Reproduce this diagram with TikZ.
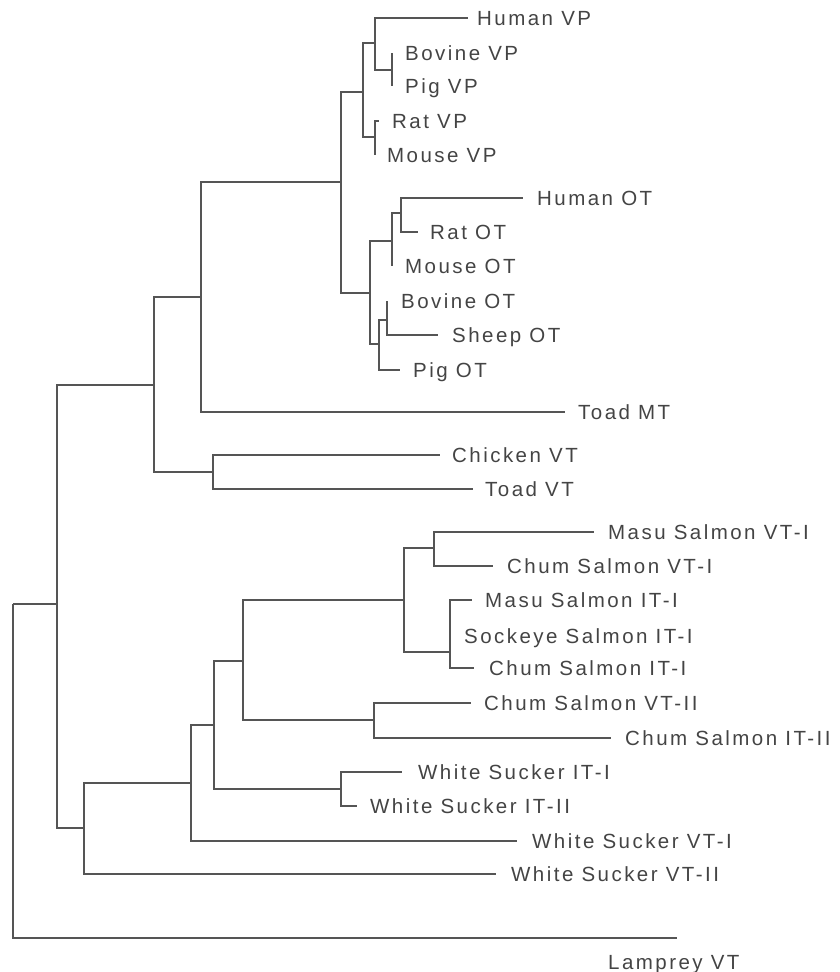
\documentclass[tikz,border=0pt]{standalone}
\usepackage{fontspec}
\newfontfamily\treefont[LetterSpace=12]{Liberation Sans}
\usepackage{xcolor}
\definecolor{branchgray}{HTML}{555555}
\definecolor{labelgray}{HTML}{444444}
\usepackage{tikz}
\usetikzlibrary{positioning,calc}

\begin{document}
\begin{tikzpicture}[x=1pt, y=-1pt,
    branch/.style={draw=branchgray, line width=1.8pt},
    leaf/.style={font=\treefont\fontsize{20.5}{23}\selectfont, text=labelgray,
      inner sep=0pt, text height=14.7pt, text depth=0pt}]
        \useasboundingbox (0,0) rectangle (839,972);
        % Inner nodes
        \coordinate (root) at (13,604);
        \coordinate (n1) at (57,604);
        \coordinate (n2) at (154,385);
        \coordinate (n3) at (201,297);
        \coordinate (n5) at (341,182);
        \coordinate (nvp) at (363,92);
        \coordinate (nvpa) at (375,43);
        \coordinate (nbp) at (392,70);
        \coordinate (nvpb) at (375,137);
        \coordinate (otc) at (370,293);
        \coordinate (nota) at (392,241);
        \coordinate (nhr) at (401,213);
        \coordinate (notb) at (379,344);
        \coordinate (nbs) at (387,320);
        \coordinate (n4) at (213,472);
        \coordinate (nf1) at (84,828);
        \coordinate (nf2) at (191,783);
        \coordinate (nf3) at (214,725);
        \coordinate (nf4) at (243,661);
        \coordinate (nsal) at (404,600);
        \coordinate (nsvt) at (434,548);
        \coordinate (nsit) at (450,652);
        \coordinate (ncs2) at (374,720);
        \coordinate (nws) at (341,789);
        % Leaf tips
        \coordinate (hvp) at (468,18);
        \coordinate (bvp) at (392,53);
        \coordinate (pvp) at (392,86);
        \coordinate (rvp) at (379,121);
        \coordinate (mvp) at (375,155);
        \coordinate (hot) at (523,198);
        \coordinate (rot) at (418,232);
        \coordinate (mot) at (392,266);
        \coordinate (bot) at (387,301);
        \coordinate (sot) at (438,335);
        \coordinate (pot) at (400,370);
        \coordinate (tmt) at (565,412);
        \coordinate (cvt) at (440,455);
        \coordinate (tvt) at (473,489);
        \coordinate (msv) at (594,532);
        \coordinate (csv) at (493,566);
        \coordinate (msi) at (472,600);
        \coordinate (ssi) at (450,636);
        \coordinate (csi) at (474,668);
        \coordinate (csv2) at (471,703);
        \coordinate (csi2) at (611,738);
        \coordinate (wsi) at (402,772);
        \coordinate (wsi2) at (357,806);
        \coordinate (wsv) at (517,841);
        \coordinate (wsv2) at (496,874);
        \coordinate (lvt) at (677,938);
        % Tetrapod branches
        \draw[branch] (root) |- (n1);
        \draw[branch] (root) |- (lvt);
        \draw[branch] (n1) |- (n2);
        \draw[branch] (n1) |- (nf1);
        \draw[branch] (n2) |- (n3);
        \draw[branch] (n2) |- (n4);
        \draw[branch] (n3) |- (n5);
        \draw[branch] (n3) |- (tmt);
        \draw[branch] (n5) |- (nvp);
        \draw[branch] (n5) |- (otc);
        \draw[branch] (nvp) |- (nvpa);
        \draw[branch] (nvp) |- (nvpb);
        \draw[branch] (nvpa) |- (hvp);
        \draw[branch] (nvpa) |- (nbp);
        \draw[branch] (nbp) |- (bvp);
        \draw[branch] (nbp) |- (pvp);
        \draw[branch] (nvpb) |- (rvp);
        \draw[branch] (nvpb) |- (mvp);
        \draw[branch] (otc) |- (nota);
        \draw[branch] (otc) |- (notb);
        \draw[branch] (nota) |- (nhr);
        \draw[branch] (nota) |- (mot);
        \draw[branch] (nhr) |- (hot);
        \draw[branch] (nhr) |- (rot);
        \draw[branch] (notb) |- (nbs);
        \draw[branch] (notb) |- (pot);
        \draw[branch] (nbs) |- (bot);
        \draw[branch] (nbs) |- (sot);
        \draw[branch] (n4) |- (cvt);
        \draw[branch] (n4) |- (tvt);
        % Fish branches
        \draw[branch] (nf1) |- (nf2);
        \draw[branch] (nf1) |- (wsv2);
        \draw[branch] (nf2) |- (nf3);
        \draw[branch] (nf2) |- (wsv);
        \draw[branch] (nf3) |- (nf4);
        \draw[branch] (nf3) |- (nws);
        \draw[branch] (nf4) |- (nsal);
        \draw[branch] (nf4) |- (ncs2);
        \draw[branch] (nsal) |- (nsvt);
        \draw[branch] (nsal) |- (nsit);
        \draw[branch] (nsvt) |- (msv);
        \draw[branch] (nsvt) |- (csv);
        \draw[branch] (nsit) |- (msi);
        \draw[branch] (nsit) |- (ssi);
        \draw[branch] (nsit) |- (csi);
        \draw[branch] (ncs2) |- (csv2);
        \draw[branch] (ncs2) |- (csi2);
        \draw[branch] (nws) |- (wsi);
        \draw[branch] (nws) |- (wsi2);
        % Labels
        \node[leaf, right=9pt of hvp] (hvp-l) {Human VP};
        \node[leaf, right=13pt of bvp] (bvp-l) {Bovine VP};
        \node[leaf, right=13pt of pvp] (pvp-l) {Pig VP};
        \node[leaf, right=13pt of rvp] (rvp-l) {Rat VP};
        \node[leaf, right=12pt of mvp] (mvp-l) {Mouse VP};
        \node[leaf, right=14pt of hot] (hot-l) {Human OT};
        \node[leaf, right=12pt of rot] (rot-l) {Rat OT};
        \node[leaf, right=13pt of mot] (mot-l) {Mouse OT};
        \node[leaf, right=14pt of bot] (bot-l) {Bovine OT};
        \node[leaf, right=14pt of sot] (sot-l) {Sheep OT};
        \node[leaf, right=13pt of pot] (pot-l) {Pig OT};
        \node[leaf, right=13pt of tmt] (tmt-l) {Toad MT};
        \node[leaf, right=12pt of cvt] (cvt-l) {Chicken VT};
        \node[leaf, right=12pt of tvt] (tvt-l) {Toad VT};
        \node[leaf, right=14pt of msv] (msv-l) {Masu Salmon VT-I};
        \node[leaf, right=14pt of csv] (csv-l) {Chum Salmon VT-I};
        \node[leaf, right=13pt of msi] (msi-l) {Masu Salmon IT-I};
        \node[leaf, right=14pt of ssi] (ssi-l) {Sockeye Salmon IT-I};
        \node[leaf, right=15pt of csi] (csi-l) {Chum Salmon IT-I};
        \node[leaf, right=13pt of csv2] (csv2-l) {Chum Salmon VT-II};
        \node[leaf, right=14pt of csi2] (csi2-l) {Chum Salmon IT-II};
        \node[leaf, right=16pt of wsi] (wsi-l) {White Sucker IT-I};
        \node[leaf, right=13pt of wsi2] (wsi2-l) {White Sucker IT-II};
        \node[leaf, right=15pt of wsv] (wsv-l) {White Sucker VT-I};
        \node[leaf, right=15pt of wsv2] (wsv2-l) {White Sucker VT-II};
        \node[leaf, anchor=west] (lvt-l) at ([xshift=-69pt, yshift=-24pt]lvt) {Lamprey VT};
      \end{tikzpicture}
\end{document}
